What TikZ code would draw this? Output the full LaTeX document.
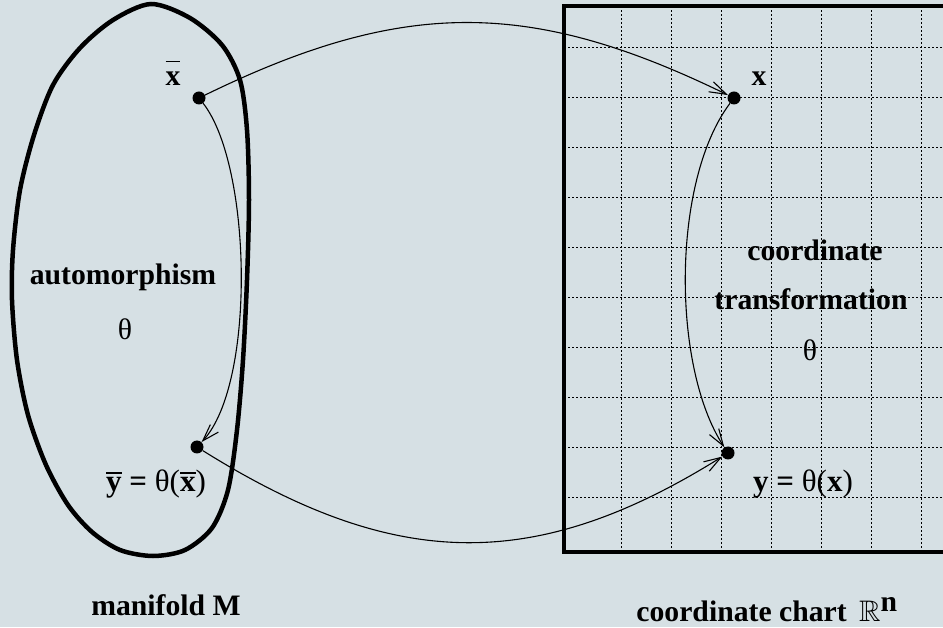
\documentclass[tikz,border=0pt]{standalone}
\usepackage{amssymb}
\usepackage{fontspec}
\setmainfont{Liberation Serif}
\usepackage{tikz}
\usetikzlibrary{arrows.meta}

\definecolor{bgcol}{RGB}{214,224,228}
% bar over a letter: #1 letter, #2 gap
\newcommand{\ovl}[2]{\leavevmode\vbox{\hrule height 1.6pt\kern #2\hbox{#1}}}

\begin{document}
\begin{tikzpicture}[x=1pt,y=1pt,
    font=\fontsize{29.7}{34}\selectfont\bfseries,
    dot/.style={circle,fill=black,inner sep=0pt,minimum size=13pt},
    lbl/.style={anchor=base,inner sep=0pt},
    eqlbl/.style={lbl,font=\fontsize{31}{36}\selectfont\bfseries},
    maparrow/.style={line width=1.1pt,-{Straight Barb[length=17pt,width=11pt]}},
    gridline/.style={line width=1pt,dash pattern=on 1.5pt off 2.5pt}]
  \fill[bgcol] (0,0) rectangle (943,627);
  \useasboundingbox (0,0) rectangle (943,627);
  \clip (0,0) rectangle (943,627);

  % coordinate chart
  \foreach \gx in {621,671,...,921} \draw[gridline] (\gx,75) -- (\gx,621);
  \foreach \gy in {129,179,...,579} \draw[gridline] (564,\gy) -- (948,\gy);
  \draw[line width=4.5pt] (564,621) rectangle (948,75);

  % manifold
  \draw[line width=4.5pt] plot[smooth cycle] coordinates {
    (151,623) (190,609) (222,582) (240,547) (247,497) (249,427)
    (247,347) (243,267) (237,197) (228,137) (212,99) (185,77)
    (153,71) (120,77) (92,95) (68,122) (46,162) (28,212)
    (17,267) (12,327) (13,377) (20,437) (34,492) (53,542)
    (80,579) (113,607)};

  \node[dot] (xbar) at (199,529) {};
  \node[dot] (ybar) at (197,180) {};
  \node[dot] (x) at (734,529) {};
  \node[dot] (y) at (728,174) {};

  \node[lbl] (xbarlbl) at (173,541) {\ovl{x}{10pt}};
  \node[lbl] (xlbl) at (759,541) {x};
  \node[eqlbl] (ybarlbl) at (156,135) {\ovl{y}{4pt} = {\mdseries θ(}\ovl{x}{4pt}{\mdseries )}};
  \node[eqlbl] (ylbl) at (803,135) {y = {\mdseries θ(}x{\mdseries )}};

  \node[lbl] (auto) at (123,342) {automorphism};
  \node[lbl] (autotheta) at (125,287) {\mdseries θ};
  \node[lbl] (coord) at (815,366) {coordinate};
  \node[lbl] (trans) at (811,317) {transformation};
  \node[lbl] (transtheta) at (810,266) {\mdseries θ};

  \node[lbl] (mfd) at (166,12) {manifold M};
  \node[lbl] (chart) at (767,6) {coordinate chart \,$\mathbb{R}^{\textbf{n}}$};

  \draw[maparrow] (xbar) to[out=26,in=154,looseness=1.08] (x);
  \draw[maparrow] (ybar) to[out=-32,in=-148,looseness=1.1] (y);
  \draw[maparrow] (xbar) to[out=-52,in=47,looseness=0.6] (ybar);
  \draw[maparrow] (x) to[out=-127,in=123,looseness=0.72] (y);
\end{tikzpicture}
\end{document}
